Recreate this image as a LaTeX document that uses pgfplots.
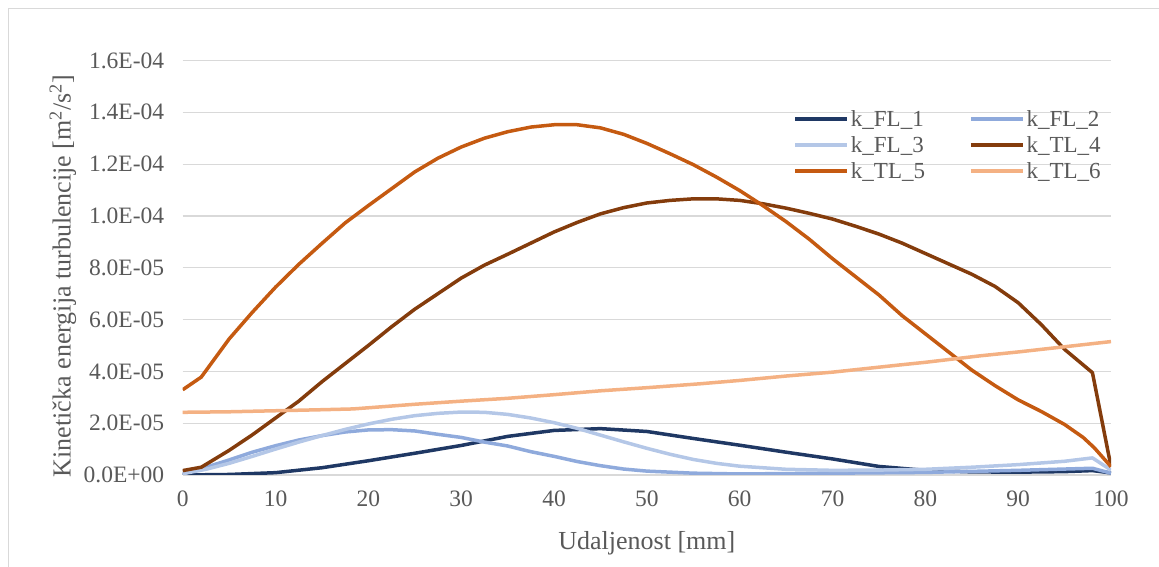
\documentclass[border=0pt]{standalone}
\usepackage{pgfplots}
\pgfplotsset{compat=1.18}
\usepackage{fontspec}
\setmainfont{Liberation Serif}
\definecolor{cFLa}{HTML}{1F3864}
\definecolor{cFLb}{HTML}{8FAADC}
\definecolor{cFLc}{HTML}{B4C7E7}
\definecolor{cTLd}{HTML}{843C0C}
\definecolor{cTLe}{HTML}{C55A11}
\definecolor{cTLf}{HTML}{F4B183}
\definecolor{txt}{HTML}{595959}
\definecolor{grd}{HTML}{D9D9D9}
\begin{document}
\begin{tikzpicture}
\useasboundingbox (0bp,0bp) rectangle (1159bp,567bp);
\draw[grd, line width=1bp] (8.5bp,-5bp) -- (8.5bp,558.5bp) -- (1170bp,558.5bp);
\begin{axis}[
  at={(182.7bp,92bp)}, anchor=south west,
  scale only axis, width=928.3bp, height=414.5bp,
  xmin=0, xmax=100, ymin=0, ymax=1.6e-4,
  axis x line*=bottom, axis y line*=left,
  x axis line style={grd, line width=1.2bp, -},
  y axis line style={draw=none},
  xtick={0,10,...,100}, major tick length=0pt,
  ytick={0,2e-5,4e-5,6e-5,8e-5,1e-4,1.2e-4,1.4e-4,1.6e-4},
  yticklabels={0.0E+00,2.0E-05,4.0E-05,6.0E-05,8.0E-05,1.0E-04,1.2E-04,1.4E-04,1.6E-04},
  scaled y ticks=false,
  ymajorgrids, grid style={grd, line width=1.2bp},
  tick label style={font=\fontsize{23.5bp}{27bp}\selectfont, text=txt},
  /pgf/number format/assume math mode=true,
  yticklabel style={xshift=-15bp},
  xticklabel style={yshift=-12bp},
  label style={font=\fontsize{26bp}{30bp}\selectfont, text=txt},
  xlabel={Udaljenost [mm]},
  ylabel={Kinetička energija turbulencije [m\textsuperscript{2}/s\textsuperscript{2}]},
  xlabel style={at={(axis description cs:0.5,-0.164)}, anchor=center},
  ylabel style={at={(axis description cs:-0.129,0.48)}, anchor=center},
  every axis plot/.append style={line width=3.5bp, line join=round},
  legend columns=2,
  legend cell align=left,
  legend image code/.code={\draw[#1] (0bp,0bp) -- (52bp,0bp);},
  legend style={draw=none, fill=none, inner sep=0pt, row sep=4.5bp,
    at={(axis description cs:0.6577,0.885)}, anchor=north west,
    font=\fontsize{23bp}{27bp}\selectfont, text=txt,
    nodes={inner sep=2bp},
    /tikz/every even column/.append style={column sep=42bp}},
]
\addplot[cFLa] coordinates {
(0,0) (5,0.02e-5) (10,0.09e-5) (15,0.28e-5) (20,0.55e-5) (25,0.84e-5) (30,1.14e-5)
(35,1.49e-5) (40,1.72e-5) (45,1.79e-5) (50,1.68e-5) (55,1.41e-5) (60,1.15e-5)
(65,0.88e-5) (70,0.62e-5) (75,0.33e-5) (80,0.18e-5) (85,0.12e-5) (90,0.11e-5)
(95,0.13e-5) (98,0.17e-5) (100,0.08e-5)};
\addlegendentry{k\_FL\_1}
\addplot[cFLb] coordinates {
(0,0.05e-5) (2.5,0.3e-5) (5,0.58e-5) (7.5,0.88e-5) (10,1.13e-5) (12.5,1.35e-5)
(15,1.52e-5) (17.5,1.66e-5) (20,1.74e-5) (22.5,1.75e-5) (25,1.70e-5) (27.5,1.57e-5)
(30,1.45e-5) (32.5,1.27e-5) (35,1.12e-5) (37.5,0.90e-5) (40,0.72e-5) (42.5,0.52e-5)
(45,0.36e-5) (47.5,0.23e-5) (50,0.15e-5) (55,0.07e-5) (60,0.04e-5) (70,0.07e-5)
(80,0.1e-5) (90,0.18e-5) (95,0.23e-5) (98,0.26e-5) (100,0.07e-5)};
\addlegendentry{k\_FL\_2}
\addplot[cFLc] coordinates {
(0,0.05e-5) (2.5,0.22e-5) (5,0.45e-5) (7.5,0.72e-5) (10,1.0e-5) (12.5,1.27e-5)
(15,1.52e-5) (17.5,1.76e-5) (20,1.97e-5) (22.5,2.15e-5) (25,2.29e-5) (27.5,2.38e-5)
(30,2.43e-5) (32.5,2.42e-5) (35,2.34e-5) (37.5,2.20e-5) (40,2.02e-5) (42.5,1.80e-5)
(45,1.54e-5) (47.5,1.28e-5) (50,1.03e-5) (52.5,0.80e-5) (55,0.60e-5) (57.5,0.45e-5)
(60,0.34e-5) (65,0.22e-5) (70,0.18e-5) (75,0.19e-5) (80,0.22e-5) (85,0.30e-5)
(90,0.40e-5) (95,0.53e-5) (98,0.66e-5) (100,0.19e-5)};
\addlegendentry{k\_FL\_3}
\addplot[cTLd] coordinates {
(0,0.17e-5) (2,0.30e-5) (5,0.95e-5) (7.5,1.55e-5) (10,2.2e-5) (12.5,2.85e-5)
(15,3.6e-5) (17.5,4.3e-5) (20,5.0e-5) (22.5,5.72e-5) (25,6.4e-5) (27.5,7.0e-5)
(30,7.6e-5) (32.5,8.1e-5) (35,8.52e-5) (37.5,8.95e-5) (40,9.38e-5) (42.5,9.75e-5)
(45,10.08e-5) (47.5,10.32e-5) (50,10.5e-5) (52.5,10.6e-5) (55,10.66e-5) (57.5,10.66e-5)
(60,10.6e-5) (62.5,10.47e-5) (65,10.3e-5) (67.5,10.1e-5) (70,9.88e-5) (72.5,9.6e-5)
(75,9.3e-5) (77.5,8.95e-5) (80,8.55e-5) (82.5,8.15e-5) (85,7.75e-5) (87.5,7.28e-5)
(90,6.65e-5) (92.5,5.8e-5) (95,4.85e-5) (98,3.95e-5) (100,0.32e-5)};
\addlegendentry{k\_TL\_4}
\addplot[cTLe] coordinates {
(0,3.29e-5) (2,3.78e-5) (5,5.25e-5) (7.5,6.28e-5) (10,7.25e-5) (12.5,8.13e-5)
(15,8.94e-5) (17.5,9.73e-5) (20,10.4e-5) (22.5,11.05e-5) (25,11.7e-5) (27.5,12.23e-5)
(30,12.66e-5) (32.5,13.0e-5) (35,13.25e-5) (37.5,13.43e-5) (40,13.52e-5) (42.5,13.52e-5)
(45,13.4e-5) (47.5,13.15e-5) (50,12.8e-5) (52.5,12.4e-5) (55,11.98e-5) (57.5,11.5e-5)
(60,10.98e-5) (62.5,10.4e-5) (65,9.78e-5) (67.5,9.1e-5) (70,8.35e-5) (72.5,7.65e-5)
(75,6.95e-5) (77.5,6.15e-5) (80,5.45e-5) (82.5,4.75e-5) (85,4.05e-5) (87.5,3.45e-5)
(90,2.9e-5) (92.5,2.45e-5) (95,1.95e-5) (97,1.45e-5) (98.2,1.05e-5) (100,0.32e-5)};
\addlegendentry{k\_TL\_5}
\addplot[cTLf] coordinates {
(0,2.42e-5) (5,2.44e-5) (10,2.48e-5) (15,2.52e-5) (18.35,2.55e-5) (25,2.73e-5)
(30,2.85e-5) (35,2.96e-5) (40,3.1e-5) (45,3.25e-5) (50,3.37e-5) (55.7,3.52e-5)
(60,3.65e-5) (65,3.82e-5) (70,3.97e-5) (77.3,4.25e-5) (80,4.35e-5) (85.9,4.6e-5)
(90,4.75e-5) (95,4.95e-5) (100,5.15e-5)};
\addlegendentry{k\_TL\_6}
\end{axis}
\end{tikzpicture}
\end{document}
